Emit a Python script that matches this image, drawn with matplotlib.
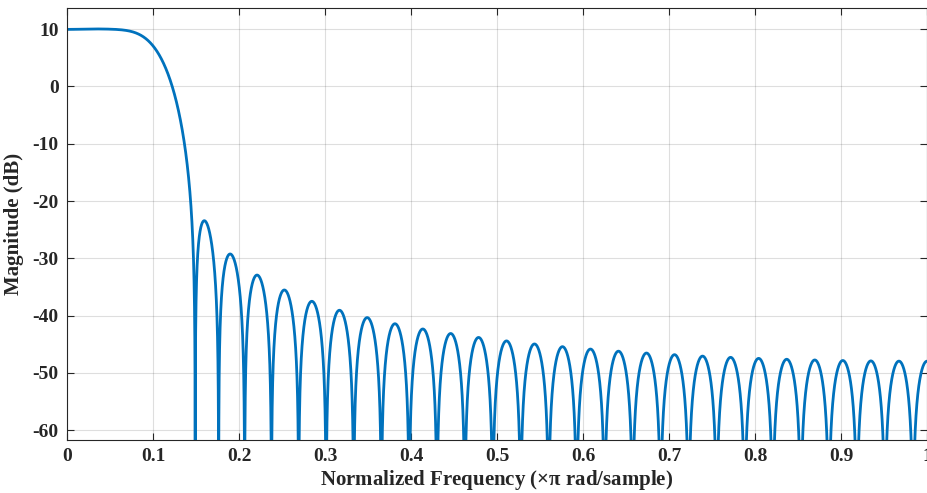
import numpy as np
import matplotlib
matplotlib.use("Agg")
import matplotlib.pyplot as plt

# ── Filter that produced the response (root-raised-cosine, unit energy) ─────
ROLLOFF = 0.4        # beta
SPAN = 6             # symbols
SPS = 10             # samples per symbol
N_FREQ = 32768       # frequency points on [0, pi)

x_ticks = [0, 0.1, 0.2, 0.3, 0.4, 0.5, 0.6, 0.7, 0.8, 0.9, 1]
x_tick_labels = ["0", "0.1", "0.2", "0.3", "0.4", "0.5", "0.6", "0.7", "0.8", "0.9", "1"]
y_ticks = [-60, -50, -40, -30, -20, -10, 0, 10]
y_limits = (-61.7, 13.7)

# ── Impulse response ─────────────────────────────────────────────────────────
t = np.arange(-SPAN * SPS / 2, SPAN * SPS / 2 + 1) / SPS
b = ROLLOFF
h = np.zeros_like(t)
for i, ti in enumerate(t):
    if np.isclose(ti, 0):
        h[i] = 1 - b + 4 * b / np.pi
    elif np.isclose(abs(4 * b * ti), 1):
        h[i] = (b / np.sqrt(2)) * ((1 + 2 / np.pi) * np.sin(np.pi / (4 * b))
                                   + (1 - 2 / np.pi) * np.cos(np.pi / (4 * b)))
    else:
        h[i] = (np.sin(np.pi * ti * (1 - b)) + 4 * b * ti * np.cos(np.pi * ti * (1 + b))) \
               / (np.pi * ti * (1 - (4 * b * ti) ** 2))
h = h / np.sqrt(np.sum(h ** 2))

# freqz-style response
H = np.fft.fft(h, 2 * N_FREQ)[:N_FREQ]
w = np.arange(N_FREQ) / N_FREQ
mag_db = 20 * np.log10(np.maximum(np.abs(H), 1e-12))

# ── Plot ─────────────────────────────────────────────────────────────────────
plt.rcParams["font.family"] = ["Liberation Serif", "DejaVu Serif"]
plt.rcParams["font.weight"] = "bold"
plt.rcParams["axes.unicode_minus"] = False
plt.rcParams["mathtext.fontset"] = "custom"
plt.rcParams["mathtext.rm"] = "Liberation Serif:bold"
plt.rcParams["mathtext.it"] = "Liberation Serif:bold"

fig = plt.figure(figsize=(9.28, 4.93), dpi=100)
ax = fig.add_axes([67 / 928, 1 - 440 / 493, 860 / 928, 432 / 493])

ax.plot(w, mag_db, color="#0072BD", lw=2.0)

ax.set_xlim(0, 1)
ax.set_ylim(*y_limits)
ax.set_xticks(x_ticks)
ax.set_xticklabels(x_tick_labels)
ax.set_yticks(y_ticks)
ax.grid(True, color="#262626", alpha=0.15, lw=0.8)
ax.set_axisbelow(True)

ax.tick_params(direction="in", length=5, width=0.8, color="#262626",
               labelsize=14, labelcolor="#262626", top=True, right=True, pad=6)
for lbl in ax.get_xticklabels() + ax.get_yticklabels():
    lbl.set_fontweight("bold")
for sp in ax.spines.values():
    sp.set_color("#262626")
    sp.set_linewidth(0.8)

ax.set_xlabel(r"Normalized Frequency ($\times\pi$ rad/sample)",
              fontsize=15, fontweight="bold", color="#262626", labelpad=2)
ax.set_ylabel("Magnitude (dB)", fontsize=15, fontweight="bold", color="#262626", labelpad=6)

fig.savefig("out.png", dpi=100)
